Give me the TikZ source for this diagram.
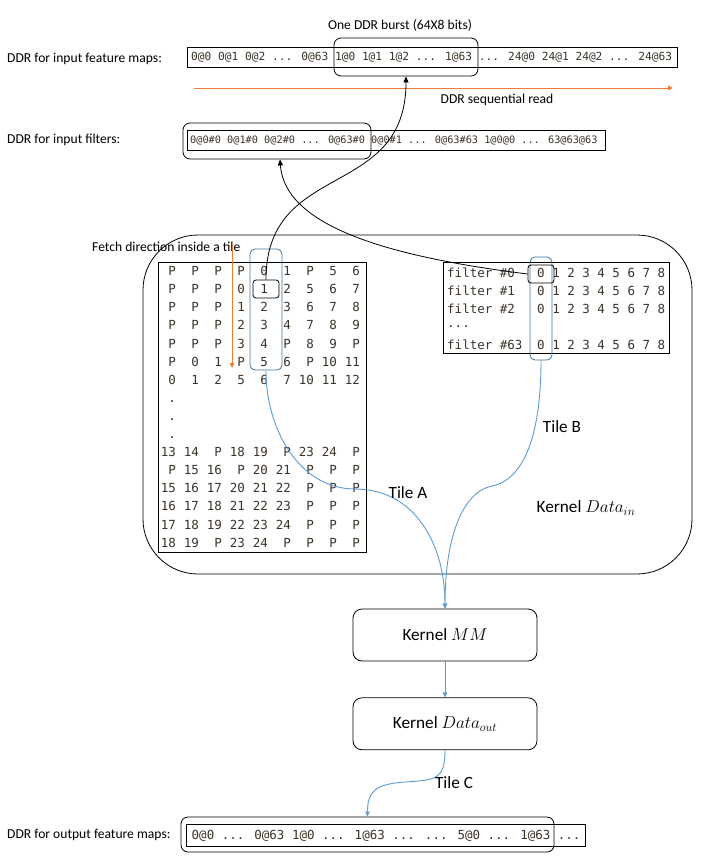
\documentclass[tikz,border=0pt]{standalone}
\usepackage{fontspec}
\setmainfont{Carlito}
\newfontfamily\cellfont{DejaVu Sans Mono}
\usetikzlibrary{arrows.meta, positioning, calc}
\definecolor{tileblue}{HTML}{5B9BD5}
\definecolor{boxblue}{HTML}{41719C}
\definecolor{readorange}{HTML}{ED7D31}
\definecolor{celltext}{HTML}{3A3328}
\newcommand{\lblsize}{\fontsize{13.6}{16}\selectfont}
\newcommand{\bigsize}{\fontsize{17.2}{20}\selectfont}
\tikzset{
  lbl/.style={font=\lblsize, inner sep=0pt},
  biglbl/.style={font=\bigsize, inner sep=0pt},
  membox/.style={draw, line width=0.8pt, inner sep=0pt},
  memtext/.style={text=celltext, inner sep=0pt, anchor=west},
  burstbox/.style={draw, line width=0.8pt, rounded corners=7pt, inner sep=0pt},
  tilebox/.style={draw=boxblue, line width=0.8pt, rounded corners=5pt, inner sep=0pt},
  kernelbox/.style={draw, line width=0.8pt, rounded corners=9pt, minimum width=184pt, minimum height=52pt, font=\bigsize},
  cell/.style={font=\cellfont\fontsize{12.5}{14}\selectfont, text=celltext, inner sep=0pt, anchor=base east},
  fetch/.style={readorange, line width=0.9pt, -{Triangle[length=5pt,width=4.5pt]}},
  tileline/.style={tileblue, line width=0.9pt, -{Triangle[length=5pt,width=4.5pt]}},
  pick/.style={black, line width=0.8pt, -{Triangle[length=6pt,width=5pt]}},
}
\begin{document}
\begin{tikzpicture}[x=1pt, y=-1pt]
  \useasboundingbox (0,0) rectangle (701,867);
  % DDR input feature maps
  \node[lbl] (burstlbl) at (400,25) {One DDR burst (64X8 bits)};
  \node[lbl, anchor=west] (ifmlbl) at (7,59) {DDR for input feature maps:};
  \node[membox, minimum width=490pt, minimum height=20pt] (ifm) at (432.5,57.5) {};
  \node[memtext, font=\cellfont\fontsize{11.2}{13}\selectfont] (ifmtext) at (191,57.5)
    {0@0 0@1 0@2 ... 0@63 1@0 1@1 1@2 ... 1@63 ... 24@0 24@1 24@2 ... 24@63};
  \node[burstbox, minimum width=144pt, minimum height=38pt] (burst) at (406,57) {};
  \coordinate (readstart) at (194,88);
  \coordinate (readend) at (673,88);
  \draw[fetch] (readstart) -- (readend);
  \node[lbl] (seqlbl) at (497,100) {DDR sequential read};
  % DDR input filters
  \node[lbl, anchor=west] (filtlbl) at (7,140) {DDR for input filters:};
  \node[membox, minimum width=418.5pt, minimum height=20pt] (filt) at (396.25,140) {};
  \node[memtext, font=\cellfont\fontsize{10.25}{12}\selectfont] (filttext) at (190,140)
    {0@0\#0 0@1\#0 0@2\#0 ... 0@63\#0 0@0\#1 ... 0@63\#63 1@0@0 ... 63@63@63};
  \node[burstbox, minimum width=188pt, minimum height=36pt] (fburst) at (277,141) {};
  % Kernel Data_in
  \node[draw, line width=0.8pt, rounded corners=55pt, minimum width=549pt, minimum height=339pt] (datain) at (417.5,404.5) {};
  \node[biglbl] (datainlbl) at (586,508) {Kernel $Data_{in}$};
  \node[lbl, anchor=west] (fetchlbl) at (92,247) {Fetch direction inside a tile};
  % tile A
  \node[membox, minimum width=208pt, minimum height=290pt] (tabA) at (262,407) {};
  \foreach \cells [count=\r] in {
      {P,P,P,P,0,1,P,5,6},
      {P,P,P,0,1,2,5,6,7},
      {P,P,P,1,2,3,6,7,8},
      {P,P,P,2,3,4,7,8,9},
      {P,P,P,3,4,P,8,9,P},
      {P,0,1,P,5,6,P,10,11},
      {0,1,2,5,6,7,10,11,12},
      {.},{.},{.},
      {13,14,P,18,19,P,23,24,P},
      {P,15,16,P,20,21,P,P,P},
      {15,16,17,20,21,22,P,P,P},
      {16,17,18,21,22,23,P,P,P},
      {17,18,19,22,23,24,P,P,P},
      {18,19,P,23,24,P,P,P,P}}
    \foreach \c [count=\k] in \cells
      \node[cell] (ta-\r-\k) at ({153+23*\k},{275.6+18.1*(\r-1)}) {\c};
  \node[tilebox, minimum width=32pt, minimum height=121pt] (tileA) at (266,309.5) {};
  \node[burstbox, rounded corners=3pt, minimum width=26pt, minimum height=18pt] (onebox) at (266,289) {};
  \coordinate (fetchtop) at (232,244);
  \coordinate (fetchend) at (232,368);
  \draw[fetch] (fetchtop) -- (fetchend);
  % tile B
  \node[membox, minimum width=226pt, minimum height=91pt] (tabB) at (556,307.5) {};
  \foreach \f/\yy [count=\r] in {{filter \#0}/273, {filter \#1}/291, {filter \#2}/309, {filter \#63}/344.5} {
    \node[cell, anchor=west] (fl-\r) at (447,\yy) {\f};
    \node[cell, anchor=west] (fd-\r) at (537,\yy) {0 1 2 3 4 5 6 7 8};
  }
  \node[cell, anchor=west] (fdots) at (447,327) {...};
  \node[tilebox, minimum width=22pt, minimum height=103pt] (tileB) at (541,308.5) {};
  \node[burstbox, rounded corners=3pt, minimum width=26pt, minimum height=18pt] (zerobox) at (541,274) {};
  % fetch from DDR
  \draw[pick] (onebox.north) .. controls +(0,-120) and +(0,124) .. (burst.south);
  \draw[pick] (zerobox.west) .. controls +(-128,-16) and +(5,70) .. ([xshift=3pt]fburst.south);
  % kernels
  \node[kernelbox] (mm) at (445,635) {Kernel $MM$};
  \node[kernelbox, below=36pt of mm] (dout) {Kernel $Data_{out}$};
  \coordinate (amid) at (355,489);
  \coordinate (bmid) at (492,486);
  \coordinate (cmid) at (405,782);
  \draw[tileline] (tileA.south) .. controls +(0,60) and +(-55,0) .. (amid) .. controls +(60,0) and +(0,-64) .. (mm.north);
  \draw[tileline] (tileB.south) .. controls +(0,95) and +(22,-4) .. (bmid) .. controls +(-30,6) and +(0,-70) .. (mm.north);
  \node[biglbl] (tilealbl) at (408,493) {Tile A};
  \node[biglbl] (tileblbl) at (562,427) {Tile B};
  \draw[tileline] (mm) -- (dout);
  % DDR output feature maps
  \node[lbl, anchor=west] (ofmlbl) at (7,835) {DDR for output feature maps:};
  \node[membox, minimum width=399pt, minimum height=22.5pt] (ofm) at (385.5,835.5) {};
  \node[memtext, font=\cellfont\fontsize{12.5}{14}\selectfont] (ofmtext) at (191.5,835.5)
    {0@0 ... 0@63 1@0 ... 1@63 ... ... 5@0 ... 1@63 ...};
  \node[burstbox, minimum width=373pt, minimum height=35pt] (outburst) at (367.5,834.5) {};
  \draw[tileline] (dout.south) .. controls +(0,30) and +(30,-2) .. (cmid) .. controls +(-30,2) and +(0,-25) .. (outburst.north);
  \node[biglbl] (tileclbl) at (454,783) {Tile C};
\end{tikzpicture}
\end{document}
